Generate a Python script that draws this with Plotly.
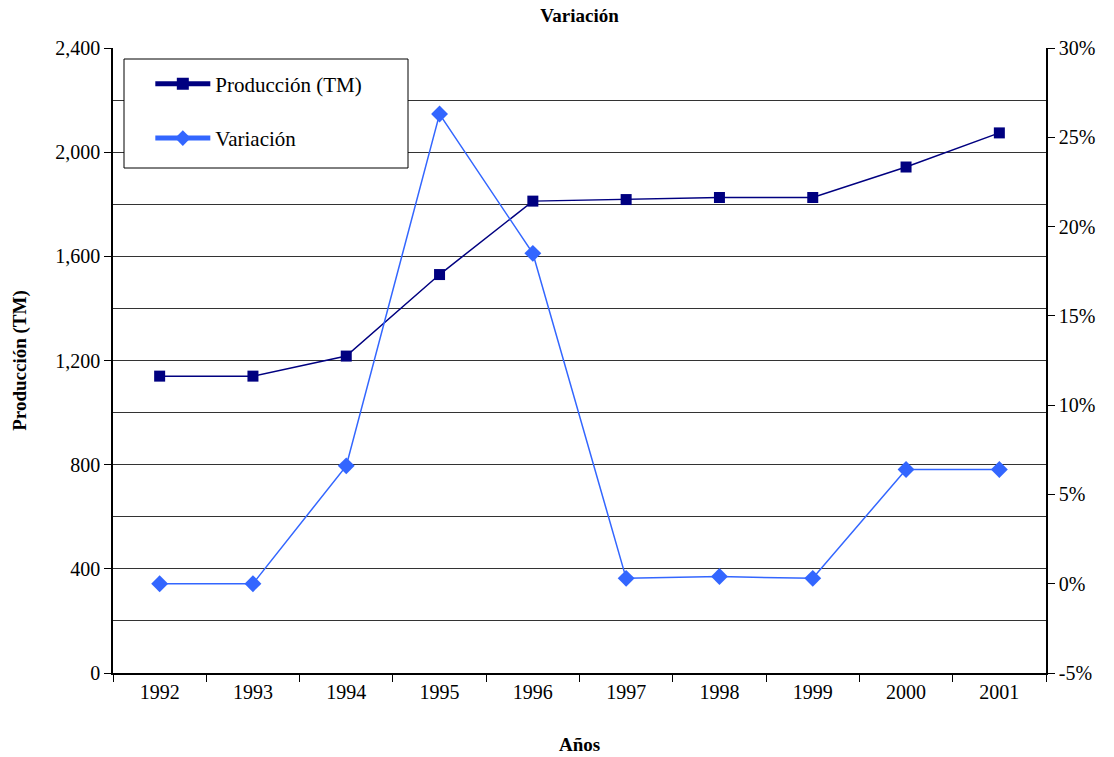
import plotly.graph_objects as go

years = ["1992", "1993", "1994", "1995", "1996", "1997", "1998", "1999", "2000", "2001"]
produccion = [1140, 1140, 1217, 1530, 1812, 1818, 1826, 1826, 1943, 2074]
variacion = [0.0, 0.0, 6.6, 26.3, 18.5, 0.3, 0.4, 0.3, 6.4, 6.4]
left_ticks = [0, 400, 800, 1200, 1600, 2000, 2400]
left_labels = ["0", "400", "800", "1,200", "1,600", "2,000", "2,400"]
right_ticks = [-5, 0, 5, 10, 15, 20, 25, 30]
right_labels = ["-5%", "0%", "5%", "10%", "15%", "20%", "25%", "30%"]

FONT = "Liberation Serif, Times New Roman, serif"

fig = go.Figure()
fig.add_trace(go.Scatter(
    x=years, y=produccion, name="Producción (TM)", mode="lines+markers",
    legendgroup="a",
    line=dict(color="#000080", width=1.5),
    marker=dict(symbol="square", size=11, color="#000080"),
    yaxis="y"))
fig.add_trace(go.Scatter(
    x=years, y=variacion, name="Variación", mode="lines+markers",
    legendgroup="b",
    line=dict(color="#3366FF", width=1.5),
    marker=dict(symbol="diamond", size=13, color="#3366FF"),
    yaxis="y2"))

# legend frame drawn as a shape (plot-area fractions)
fig.add_shape(type="rect", xref="paper", yref="paper",
              x0=0.0118, x1=0.3162, y0=0.808, y1=0.9824,
              line=dict(color="black", width=1), fillcolor="white", layer="above")

fig.update_layout(
    width=1114, height=757,
    margin=dict(l=113, r=68, t=48, b=84),
    paper_bgcolor="white", plot_bgcolor="white",
    font=dict(family=FONT, size=20, color="black"),
    title=dict(text="<b>Variación</b>", xref="paper", x=0.5, xanchor="center",
               yref="container", y=0.980, yanchor="middle",
               font=dict(family=FONT, size=19, color="black")),
    xaxis=dict(
        type="category", range=[-0.5, 9.5], tickson="boundaries",
        ticks="outside", ticklen=7, tickcolor="black",
        showline=True, linecolor="black", linewidth=2, showgrid=False,
        automargin=False,
        title=dict(text="<b>Años</b>", font=dict(family=FONT, size=19), standoff=36),
        tickfont=dict(family=FONT, size=20)),
    yaxis=dict(
        range=[0, 2400], tickvals=left_ticks, ticktext=left_labels,
        ticks="outside", ticklen=7, tickcolor="black",
        showline=True, linecolor="black", linewidth=1.5,
        showgrid=True, gridcolor="#333333", gridwidth=1,
        minor=dict(dtick=200, showgrid=True, gridcolor="#333333", gridwidth=1),
        zeroline=False, automargin=False,
        title=dict(text="<b>Producción (TM)</b>", font=dict(family=FONT, size=19), standoff=24),
        tickfont=dict(family=FONT, size=20)),
    yaxis2=dict(
        range=[-5, 30], tickvals=right_ticks, ticktext=right_labels,
        overlaying="y", side="right",
        ticks="outside", ticklen=7, tickcolor="black",
        showline=True, linecolor="black", linewidth=1.5,
        showgrid=False, zeroline=False, automargin=False,
        tickfont=dict(family=FONT, size=20)),
    legend=dict(
        x=0.040, y=0.975, xanchor="left", yanchor="top",
        borderwidth=0, bgcolor="rgba(0,0,0,0)",
        font=dict(family=FONT, size=21), itemwidth=55,
        tracegroupgap=24, itemsizing="constant"),
    showlegend=True,
)

fig.write_html("out.html", config={"displayModeBar": False},
               post_script="document.body.style.margin='0';")
